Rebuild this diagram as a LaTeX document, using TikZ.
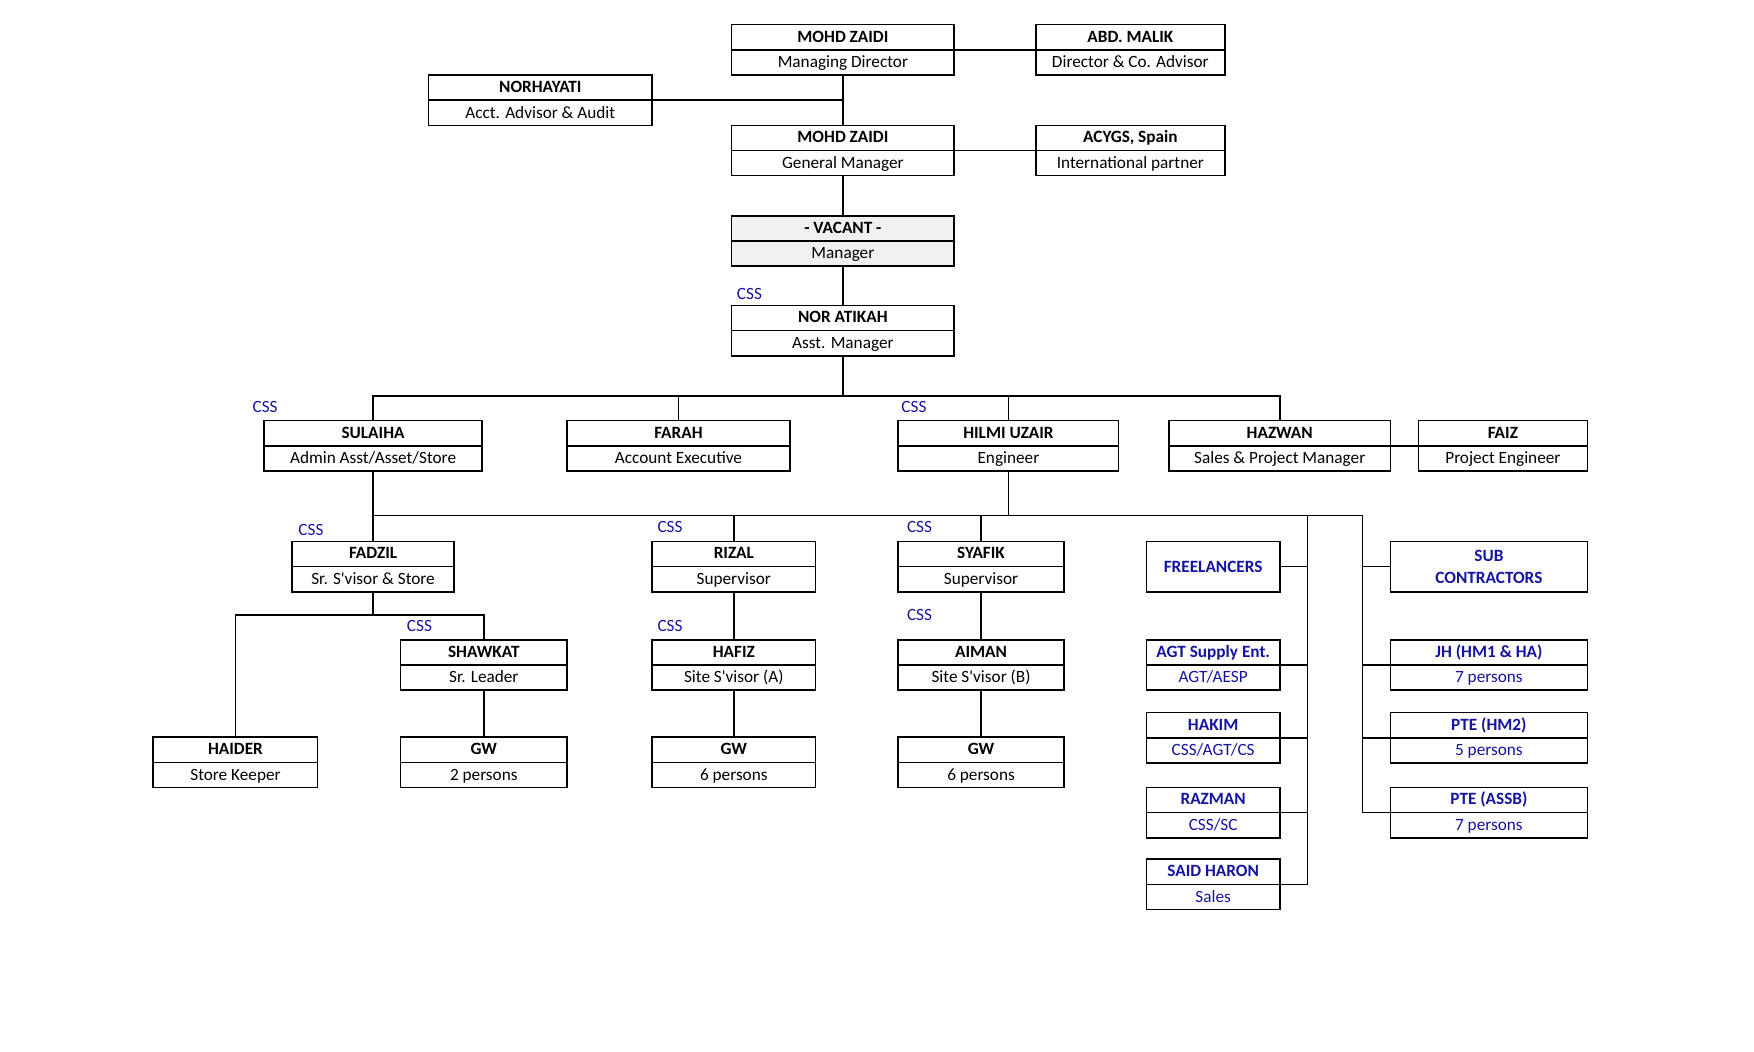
\documentclass[tikz,border=0pt]{standalone}
\usepackage{fontspec}
\setmainfont{Carlito}
\usetikzlibrary{calc}
\definecolor{cssblue}{RGB}{20,20,160}
\definecolor{vacgray}{RGB}{240,240,240}
\newcommand\fs{\fontsize{15.4}{19.4}\selectfont}
\newcommand\ap{\textquotesingle}
\tikzset{
  box/.style={draw, line width=1.4pt, inner sep=0pt, fill=white},
  vacbox/.style={box, fill=vacgray},
  conn/.style={line width=1.4pt},
  toptxt/.style={inner sep=0pt, font=\fs\bfseries, text height=12pt, text depth=2.6pt},
  bottxt/.style={inner sep=0pt, font=\fs, text height=12pt, text depth=3.2pt},
  csslbl/.style={inner sep=0pt, font=\fs, text=cssblue},
}
% #1 name, #2 x1, #3 y1, #4 x2, #5 y2, #6 top, #7 bottom, #8 box style, #9 text colour
\newcommand\obox[9]{%
  \node[#8, minimum width={(#4-#2)*1pt}, minimum height={(#5-#3)*1pt}] (#1) at ({(#2+#4)/2},{(#3+#5)/2}) {};
  \draw[conn] (#1.west) -- (#1.east);
  \node[toptxt, text=#9] (#1-t) at ($(#1.north)!0.5!(#1.center)$) {#6};
  \node[bottxt, text=#9] (#1-s) at ($(#1.south)!0.5!(#1.center)$) {#7};
}
\newcommand\singlebox[6]{%
  \node[box, minimum width={(#4-#2)*1pt}, minimum height={(#5-#3)*1pt}, font=\fs\bfseries, text=cssblue, align=center] (#1) at ({(#2+#4)/2},{(#3+#5)/2}) {#6};
}
\begin{document}
\begin{tikzpicture}[x=1pt, y=-1pt]
\useasboundingbox (0,0) rectangle (1568,939.6);
% boxes
\obox{md}{654}{22}{853}{67}{MOHD ZAIDI}{Managing Director}{box}{black}
\obox{abd}{926}{22}{1095}{67}{ABD. MALIK}{Director \& Co. Advisor}{box}{black}
\obox{nor}{383}{67}{583}{112}{NORHAYATI}{Acct. Advisor \& Audit}{box}{black}
\obox{gm}{654}{112}{853}{157}{MOHD ZAIDI}{General Manager}{box}{black}
\obox{acy}{926}{112}{1095}{157}{ACYGS, Spain}{International partner}{box}{black}
\obox{vac}{654}{193}{853}{238}{- VACANT -}{Manager}{vacbox}{black}
\obox{ati}{654}{273}{853}{318}{NOR ATIKAH}{Asst. Manager}{box}{black}
\obox{sul}{236}{376}{431}{421}{SULAIHA}{Admin Asst/Asset/Store}{box}{black}
\obox{far}{507}{376}{706}{421}{FARAH}{Account Executive}{box}{black}
\obox{hil}{803}{376}{1000}{421}{HILMI UZAIR}{Engineer}{box}{black}
\obox{haz}{1045}{376}{1243}{421}{HAZWAN}{Sales \& Project Manager}{box}{black}
\obox{faiz}{1268}{376}{1419}{421}{FAIZ}{Project Engineer}{box}{black}
\obox{fad}{261}{484}{406}{529}{FADZIL}{Sr. S\ap visor \& Store}{box}{black}
\obox{riz}{583}{484}{729}{529}{RIZAL}{Supervisor}{box}{black}
\obox{sya}{803}{484}{951}{529}{SYAFIK}{Supervisor}{box}{black}
\singlebox{free}{1025}{484}{1144}{529}{FREELANCERS}
\singlebox{sub}{1243}{484}{1419}{529}{SUB\\CONTRACTORS}
\obox{sha}{358}{572}{507}{617}{SHAWKAT}{Sr. Leader}{box}{black}
\obox{haf}{583}{572}{729}{617}{HAFIZ}{Site S\ap visor (A)}{box}{black}
\obox{aim}{803}{572}{951}{617}{AIMAN}{Site S\ap visor (B)}{box}{black}
\obox{agt}{1025}{572}{1144}{617}{AGT Supply Ent.}{AGT/AESP}{box}{cssblue}
\obox{jh}{1243}{572}{1419}{617}{JH (HM1 \& HA)}{7 persons}{box}{cssblue}
\obox{hai}{137}{659}{284}{704}{HAIDER}{Store Keeper}{box}{black}
\obox{gwa}{358}{659}{507}{704}{GW}{2 persons}{box}{black}
\obox{gwb}{583}{659}{729}{704}{GW}{6 persons}{box}{black}
\obox{gwc}{803}{659}{951}{704}{GW}{6 persons}{box}{black}
\obox{hak}{1025}{637}{1144}{682}{HAKIM}{CSS/AGT/CS}{box}{cssblue}
\obox{hm}{1243}{637}{1419}{682}{PTE (HM2)}{5 persons}{box}{cssblue}
\obox{raz}{1025}{704}{1144}{749}{RAZMAN}{CSS/SC}{box}{cssblue}
\obox{assb}{1243}{704}{1419}{749}{PTE (ASSB)}{7 persons}{box}{cssblue}
\obox{said}{1025}{768}{1144}{813}{SAID HARON}{Sales}{box}{cssblue}
% CSS labels
\node[csslbl] (c-ati) at (670,263) {CSS};
\node[csslbl] (c-sul) at (237,363.5) {CSS};
\node[csslbl] (c-hil) at (817,363.5) {CSS};
\node[csslbl] (c-fad) at (278,473.5) {CSS};
\node[csslbl] (c-riz) at (599,471) {CSS};
\node[csslbl] (c-sya) at (822,471) {CSS};
\node[csslbl] (c-sha) at (375,559.5) {CSS};
\node[csslbl] (c-haf) at (599,559.5) {CSS};
\node[csslbl] (c-aim) at (822,549.5) {CSS};
% bus coordinates
\coordinate (bus1) at (754,354);
\coordinate (bus2) at (900,461);
\coordinate (bus3) at (336,550);
\coordinate (ca) at (1169,461);
\coordinate (cb) at (1218,461);
% connectors
\draw[conn] (md.east) -- (abd.west);
\draw[conn] (md.south) -- (gm.north);
\draw[conn] (nor.east) -- (nor.east -| md.south);
\draw[conn] (gm.east) -- (acy.west);
\draw[conn] (gm.south) -- (vac.north);
\draw[conn] (vac.south) -- (ati.north);
\draw[conn] (ati.south) -- (ati.south |- bus1);
\draw[conn] (sul.north) -- (sul.north |- bus1) -- (haz.north |- bus1) -- (haz.north);
\draw[conn] (far.north) -- (far.north |- bus1);
\draw[conn] (hil.north) -- (hil.north |- bus1);
\draw[conn] (haz.east) -- (faiz.west);
\draw[conn] (sul.south) -- (fad.north);
\draw[conn] (hil.south) -- (hil.south |- bus2);
\draw[conn] (sul.south |- bus2) -- (cb);
\draw[conn] (riz.north) -- (riz.north |- bus2);
\draw[conn] (sya.north) -- (sya.north |- bus2);
\draw[conn] (ca) |- (said.east);
\draw[conn] (cb) |- (assb.east);
\draw[conn] (free.east) -- (free.east -| ca);
\draw[conn] (agt.east) -- (agt.east -| ca);
\draw[conn] (hak.east) -- (hak.east -| ca);
\draw[conn] (raz.east) -- (raz.east -| ca);
\draw[conn] (sub.west) -- (sub.west -| cb);
\draw[conn] (jh.west) -- (jh.west -| cb);
\draw[conn] (hm.west) -- (hm.west -| cb);
\draw[conn] (fad.south) -- (fad.south |- bus3);
\draw[conn] (hai.north) |- (sha.north |- bus3) -- (sha.north);
\draw[conn] (sha.south) -- (gwa.north);
\draw[conn] (riz.south) -- (haf.north);
\draw[conn] (haf.south) -- (gwb.north);
\draw[conn] (sya.south) -- (aim.north);
\draw[conn] (aim.south) -- (gwc.north);
\end{tikzpicture}
\end{document}
